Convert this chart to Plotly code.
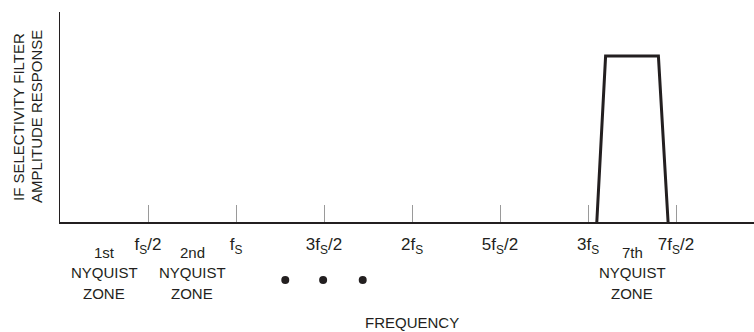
import plotly.graph_objects as go

# Data (x in units of fs)
tick_vals = [0.5, 1.0, 1.5, 2.0, 2.5, 3.0, 3.5]
tick_text = ["f<sub>S</sub>/2", "f<sub>S</sub>", "3f<sub>S</sub>/2", "2f<sub>S</sub>",
             "5f<sub>S</sub>/2", "3f<sub>S</sub>", "7f<sub>S</sub>/2"]
filter_x = [3.05, 3.10, 3.40, 3.455]
filter_y = [0.0, 0.79, 0.79, 0.0]
zone_x = [0.25, 0.75, 3.25]
zone_ordinals = ["1st", "2nd", "7th"]
zone_words = ["NYQUIST", "ZONE"]
dots_x = [1.28, 1.495, 1.72]
dots_y = [-0.276, -0.276, -0.276]
y_title_lines = ["IF SELECTIVITY FILTER", "AMPLITUDE RESPONSE"]
x_title = "FREQUENCY"

FONT = "Liberation Sans, Arial, sans-serif"
INK = "#231f20"

W, H = 754, 332
ML, MT = 60, 12
AXIS_Y_PX = 222                      # pixel row of the x axis
plot_h = H - MT
top_dom = (H - AXIS_Y_PX) / plot_h   # fraction of plot area below the x axis
x_max = (W - ML) / 176               # 176 px per fs
PX_PER_Y = AXIS_Y_PX - MT
y2_min = -(H - AXIS_Y_PX) / PX_PER_Y


def below(px):
    """pixel row -> y2 value"""
    return -(px - AXIS_Y_PX) / PX_PER_Y


fig = go.Figure()
fig.add_trace(go.Scatter(x=filter_x, y=filter_y, mode="lines", xaxis="x", yaxis="y",
                         line=dict(color=INK, width=3), cliponaxis=False,
                         hoverinfo="skip", showlegend=False))
fig.add_trace(go.Scatter(x=dots_x, y=dots_y, mode="markers", xaxis="x", yaxis="y2",
                         marker=dict(color=INK, size=8), cliponaxis=False,
                         hoverinfo="skip", showlegend=False))

line_rows = [252, 272, 293]
for zx, zo in zip(zone_x, zone_ordinals):
    for row, txt in zip(line_rows, [zo] + zone_words):
        fig.add_annotation(x=zx, y=below(row), xref="x", yref="y2", text=txt,
                           showarrow=False, xanchor="center", yanchor="middle",
                           font=dict(family=FONT, size=15, color=INK))

fig.add_annotation(x=2.0, y=below(322), xref="x", yref="y2", text=x_title,
                   showarrow=False, xanchor="center", yanchor="middle",
                   font=dict(family=FONT, size=15, color=INK))

for px, line in zip([18, 36], y_title_lines):
    fig.add_annotation(x=(px - ML) / (W - ML), y=0.5, xref="paper", yref="y",
                       text=line, textangle=-90, showarrow=False,
                       xanchor="center", yanchor="middle",
                       font=dict(family=FONT, size=15, color=INK))

fig.update_layout(
    width=W, height=H,
    margin=dict(l=ML, r=0, t=MT, b=0),
    paper_bgcolor="white", plot_bgcolor="white",
    showlegend=False,
    xaxis=dict(range=[0, x_max], tickvals=tick_vals, ticktext=tick_text,
               anchor="y",
               ticks="inside", ticklen=17, tickcolor="#9a9a9a", tickwidth=1,
               showline=True, linecolor=INK, linewidth=1.5,
               showgrid=False, zeroline=False, fixedrange=True,
               tickfont=dict(family=FONT, size=17, color=INK),
               ticklabelstandoff=6),
    yaxis=dict(domain=[top_dom, 1], range=[0, 1], anchor="x",
               showticklabels=False, ticks="",
               showline=True, linecolor=INK, linewidth=1.2,
               showgrid=False, zeroline=False, fixedrange=True),
    yaxis2=dict(domain=[0, top_dom], range=[y2_min, 0], anchor="x",
                visible=False, fixedrange=True),
)
fig.write_html("out.html", config={"displayModeBar": False},
               post_script="document.body.style.margin='0';")
